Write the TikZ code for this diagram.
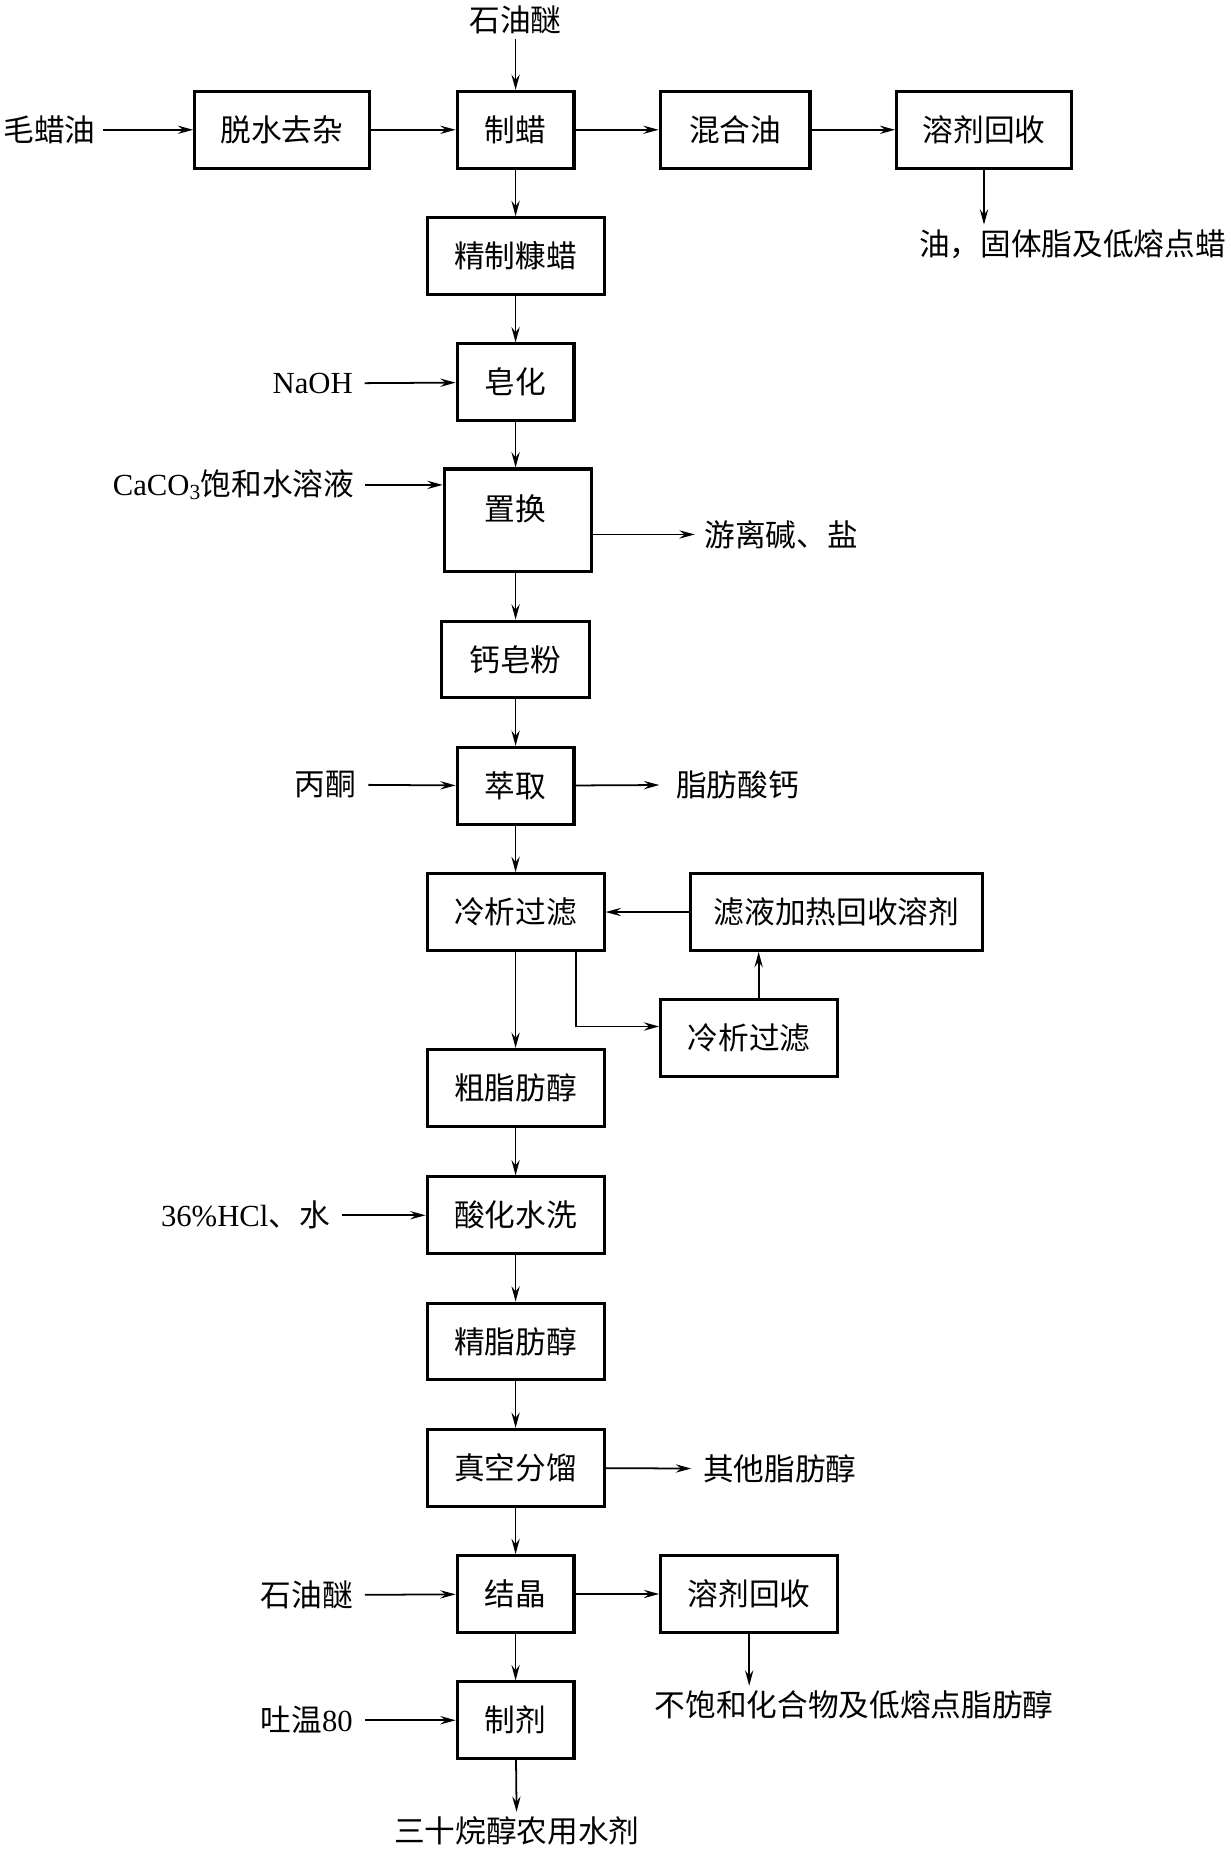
\documentclass[tikz,border=0pt]{standalone}
\usepackage{fontspec}
\setmainfont{Liberation Serif}
\newfontfamily\cjk{Noto Sans CJK SC}
\usetikzlibrary{arrows.meta}
\begin{document}
\begin{tikzpicture}[x=1pt,y=-1pt,
  proc/.style={draw, line width=2.6pt, minimum height=65pt, inner sep=0pt, font=\cjk\fontsize{26}{30}\selectfont},
  lbl/.style={inner sep=4pt, font=\cjk\fontsize{26}{30}\selectfont},
  flow/.style={line width=1.5pt, -{Stealth[length=13pt,width=7pt,inset=4.5pt]}}]
\useasboundingbox (0,0) rectangle (1043,1568);

% process boxes
\node[proc, minimum width=148pt] (b1) at (239,110) {脱水去杂};
\node[proc, minimum width=99pt] (b2) at (437,110) {制蜡};
\node[proc, minimum width=127pt] (b3) at (623,110) {混合油};
\node[proc, minimum width=148pt] (b4) at (834,110) {溶剂回收};
\node[proc, minimum width=150pt] (b5) at (437,217) {精制糠蜡};
\node[proc, minimum width=99pt] (b6) at (437,324) {皂化};
\node[proc, minimum width=125pt, minimum height=87pt] (b7) at (439,441) {};
\node[lbl] (b7t) at (437,431) {置换};
\node[proc, minimum width=126pt] (b8) at (437,559) {钙皂粉};
\node[proc, minimum width=99pt] (b9) at (437,666) {萃取};
\node[proc, minimum width=150pt] (b10) at (437,773) {冷析过滤};
\node[proc, minimum width=247pt] (b11) at (709,773) {滤液加热回收溶剂};
\node[proc, minimum width=150pt] (b12) at (635,880) {冷析过滤};
\node[proc, minimum width=150pt] (b13) at (437,922) {粗脂肪醇};
\node[proc, minimum width=150pt] (b14) at (437,1030) {酸化水洗};
\node[proc, minimum width=150pt] (b15) at (437,1137) {精脂肪醇};
\node[proc, minimum width=150pt] (b16) at (437,1244) {真空分馏};
\node[proc, minimum width=99pt] (b17) at (437,1351) {结晶};
\node[proc, minimum width=150pt] (b18) at (635,1351) {溶剂回收};
\node[proc, minimum width=99pt] (b19) at (437,1458) {制剂};

% free labels
\node[lbl] (t0) at (437,17) {石油醚};
\node[lbl, inner sep=6pt] (t1) at (42,110) {毛蜡油};
\node[lbl] (t2) at (909,207) {油，固体脂及低熔点蜡};
\node[lbl, inner sep=10pt] (t3) at (265,325) {\rmfamily NaOH};
\node[lbl, inner sep=9pt] (t4) at (198,411) {{\rmfamily CaCO\textsubscript{3}}饱和水溶液};
\node[lbl, inner sep=8pt] (t5) at (662,453) {游离碱、盐};
\node[lbl, inner sep=10pt] (t6) at (276,665) {丙酮};
\node[lbl, inner sep=14pt] (t7) at (625,665) {脂肪酸钙};
\node[lbl, inner sep=10pt] (t8) at (208,1030) {{\rmfamily 36\%HCl}、水};
\node[lbl, inner sep=10pt] (t9) at (661,1245) {其他脂肪醇};
\node[lbl, inner sep=10pt] (t10) at (260,1352) {石油醚};
\node[lbl] (t11) at (724,1445) {不饱和化合物及低熔点脂肪醇};
\node[lbl, inner sep=10pt] (t12) at (260,1458) {吐温{\rmfamily 80}};
\node[lbl] (t13) at (438,1552) {三十烷醇农用水剂};

% connectors
\draw[flow] (t0) -- (b2);
\draw[flow] (t1) -- (b1);
\draw[flow] (b1) -- (b2);
\draw[flow] (b2) -- (b3);
\draw[flow] (b3) -- (b4);
\draw[flow] (b4.south) -- (b4.south |- t2.north);
\draw[flow] (b2) -- (b5);
\draw[flow] (b5) -- (b6);
\draw[flow] (t3) -- (b6);
\draw[flow] (b6) -- (b7.north -| b6.south);
\draw[flow] (t4.east) -- (t4.east -| b7.west);
\draw[flow] (t5.west -| b7.east) -- (t5.west);
\draw[flow] (b7.south -| b8.north) -- (b8);
\draw[flow] (b8) -- (b9);
\draw[flow] (t6) -- (b9);
\draw[flow] (b9) -- (t7);
\draw[flow] (b9) -- (b10);
\draw[flow] (b11) -- (b10);
\draw[flow] ([xshift=-25pt]b10.south east) |- ([yshift=10pt]b12.west);
\draw[flow] ([xshift=8pt]b12.north) -- ([xshift=8pt]b12.north |- b11.south);
\draw[flow] (b10) -- (b13);
\draw[flow] (b13) -- (b14);
\draw[flow] (t8) -- (b14);
\draw[flow] (b14) -- (b15);
\draw[flow] (b15) -- (b16);
\draw[flow] (b16) -- (t9);
\draw[flow] (b16) -- (b17);
\draw[flow] (t10) -- (b17);
\draw[flow] (b17) -- (b18);
\draw[flow] (b18.south) -- (b18.south |- t11.north);
\draw[flow] (b17) -- (b19);
\draw[flow] (t12) -- (b19);
\draw[flow] (b19) -- (t13);
\end{tikzpicture}
\end{document}
